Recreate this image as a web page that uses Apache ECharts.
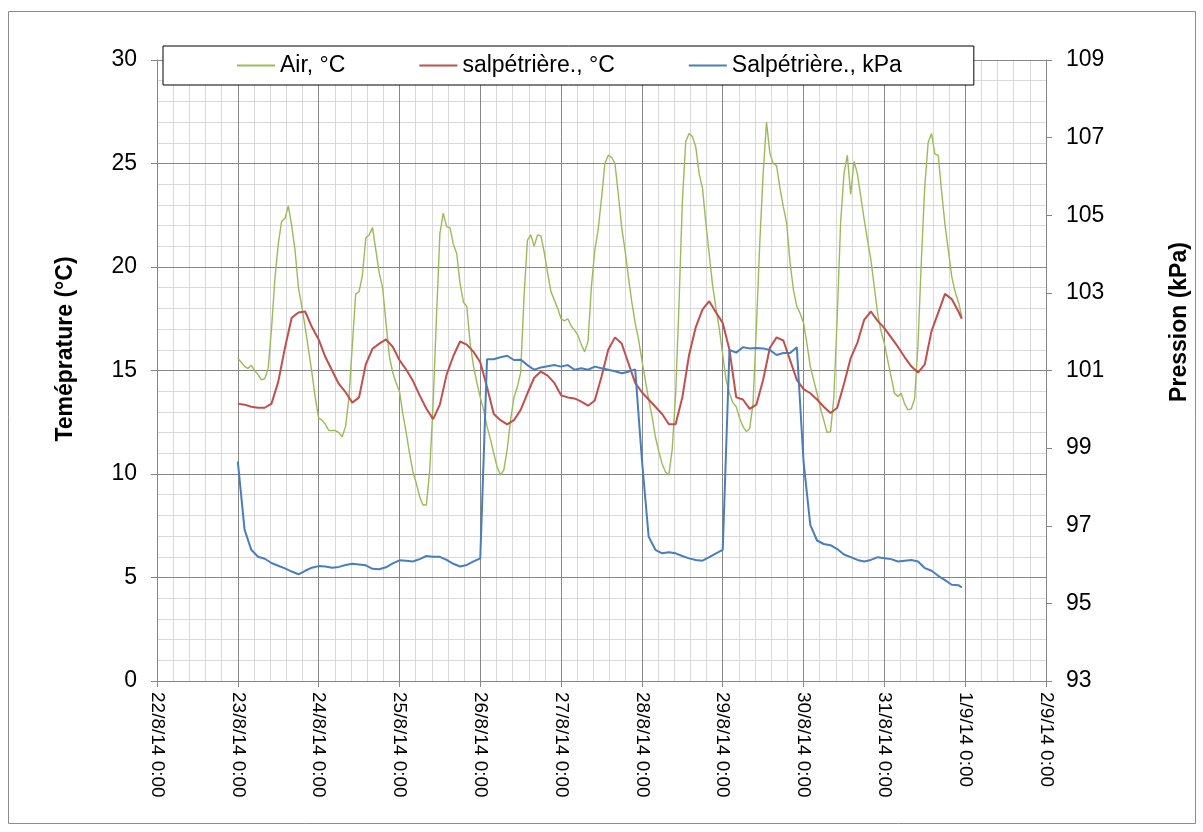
<!DOCTYPE html>
<html>
<head>
<meta charset="utf-8">
<script src="https://cdn.jsdelivr.net/npm/echarts@6/dist/echarts.min.js"></script>
<style>
  html, body { margin: 0; padding: 0; background: #fff; }
  #chart { width: 1203px; height: 832px; }
</style>
</head>
<body>
<div id="chart"></div>
<script>
// Date tick labels, one per day (x values are hours since 22/8/14 0:00)
const tickLabels = ['22/8/14 0:00', '23/8/14 0:00', '24/8/14 0:00', '25/8/14 0:00', '26/8/14 0:00',
  '27/8/14 0:00', '28/8/14 0:00', '29/8/14 0:00', '30/8/14 0:00', '31/8/14 0:00', '1/9/14 0:00', '2/9/14 0:00'];

const seriesNames = ['Air, °C', 'salpétrière., °C', 'Salpétrière., kPa'];

// Air temperature, hourly from 23/8 0:00 to 31/8 23:00 (°C)
const airTemp = [
  15.6, 15.4, 15.2, 15.1, 15.25, 15.0, 14.8, 14.55, 14.6, 15.1, 17.0, 19.4, 21.1, 22.2, 22.35, 22.95, 22.0, 20.8, 19.0, 18.1, 17.1, 16.0, 14.9, 13.7,
  12.7, 12.6, 12.4, 12.1, 12.1, 12.1, 12.0, 11.8, 12.3, 13.7, 16.2, 18.7, 18.8, 19.6, 21.4, 21.55, 21.9, 20.8, 19.7, 19.0, 17.3, 15.7, 14.9, 14.4,
  14.0, 12.9, 12.0, 11.0, 10.1, 9.55, 8.9, 8.5, 8.5, 10.2, 13.4, 17.6, 21.6, 22.6, 21.95, 21.9, 21.1, 20.65, 19.2, 18.3, 18.1, 16.3, 15.2, 14.4,
  13.7, 13.1, 12.3, 11.7, 11.0, 10.35, 9.95, 10.2, 11.2, 12.6, 13.7, 14.2, 14.9, 18.6, 21.3, 21.55, 21.0, 21.55, 21.5, 20.7, 19.7, 18.8, 18.4, 18.0,
  17.5, 17.4, 17.5, 17.15, 16.95, 16.7, 16.25, 15.9, 16.4, 19.05, 20.8, 21.8, 23.3, 25.0, 25.4, 25.3, 25.0, 23.5, 21.9, 20.8, 19.5, 18.3, 17.3, 16.5,
  15.5, 14.55, 13.6, 12.8, 11.8, 11.1, 10.5, 10.1, 9.95, 11.2, 13.8, 18.1, 23.1, 26.05, 26.45, 26.3, 25.8, 24.5, 23.8, 22.1, 20.6, 19.1, 18.0, 17.0,
  15.75, 14.55, 13.9, 13.45, 13.25, 12.7, 12.3, 12.05, 12.2, 13.4, 17.1, 21.15, 24.5, 27.0, 25.5, 25.0, 24.9, 23.8, 22.9, 22.1, 20.2, 18.9, 18.1, 17.75,
  17.3, 16.3, 15.2, 14.55, 13.9, 13.2, 12.6, 12.0, 12.05, 13.7, 17.6, 22.1, 24.5, 25.4, 23.5, 25.1, 24.5, 23.4, 22.3, 21.3, 20.35, 19.05, 17.75, 16.9,
  16.3, 15.5, 14.7, 13.9, 13.75, 13.9, 13.4, 13.1, 13.15, 13.65, 16.3, 20.35, 23.9, 26.0, 26.45, 25.45, 25.4, 23.65, 22.05, 20.8, 19.55, 18.8, 18.3, 17.6
];

// Salpêtrière temperature, every 2 h from 23/8 0:00, last reading 31/8 23:00 (°C)
const caveTemp = [
  13.4, 13.35, 13.25, 13.2, 13.2, 13.4, 14.45, 16.1, 17.55, 17.8, 17.85, 17.1,
  16.5, 15.65, 15.0, 14.35, 13.95, 13.45, 13.7, 15.3, 16.05, 16.3, 16.5, 16.15,
  15.5, 15.05, 14.5, 13.8, 13.15, 12.65, 13.35, 14.8, 15.7, 16.4, 16.25, 15.9,
  15.4, 14.2, 12.9, 12.6, 12.4, 12.6, 13.1, 13.9, 14.65, 14.95, 14.75, 14.4,
  13.8, 13.7, 13.65, 13.5, 13.3, 13.55, 14.7, 16.0, 16.6, 16.3, 15.35, 14.4,
  13.95, 13.6, 13.25, 12.9, 12.4, 12.4, 13.7, 15.75, 17.1, 17.95, 18.35, 17.8,
  17.3, 16.0, 13.7, 13.6, 13.15, 13.35, 14.55, 16.1, 16.6, 16.45, 15.5, 14.55,
  14.1, 13.9, 13.6, 13.25, 12.95, 13.2, 14.35, 15.6, 16.35, 17.45, 17.85, 17.4,
  17.05, 16.6, 16.15, 15.65, 15.2, 14.9, 15.3, 16.9, 17.8, 18.7, 18.45, 17.85,
  17.5
];

// Salpêtrière pressure, same timestamps as caveTemp (kPa)
const cavePressure = [
  98.65, 96.9, 96.38, 96.2, 96.15, 96.04, 95.97, 95.9, 95.82, 95.75, 95.84, 95.92,
  95.96, 95.95, 95.92, 95.94, 95.99, 96.02, 96.0, 95.98, 95.89, 95.88, 95.93, 96.03,
  96.11, 96.1, 96.08, 96.14, 96.22, 96.2, 96.2, 96.12, 96.02, 95.95, 95.99, 96.08,
  96.16, 101.29, 101.29, 101.34, 101.38, 101.27, 101.28, 101.14, 101.02, 101.08, 101.11, 101.14,
  101.1, 101.14, 101.02, 101.06, 101.02, 101.1, 101.06, 101.02, 100.98, 100.93, 100.97, 101.03,
  98.7, 96.72, 96.38, 96.29, 96.32, 96.29, 96.22, 96.16, 96.12, 96.1, 96.19, 96.29,
  96.38, 101.53, 101.46, 101.6, 101.57, 101.58, 101.57, 101.53, 101.4, 101.45, 101.45, 101.6,
  98.65, 97.02, 96.62, 96.53, 96.5, 96.4, 96.26, 96.19, 96.12, 96.08, 96.12, 96.19,
  96.16, 96.14, 96.08, 96.1, 96.12, 96.08, 95.91, 95.84, 95.71, 95.6, 95.48, 95.47,
  95.41
];

// Timestamps in hours since 22/8/14 0:00
const airHours = airTemp.map((_, i) => 24 + i);
const caveHours = [];
for (let i = 0; i < 108; i++) caveHours.push(24 + 2 * i);
caveHours.push(24 + 215);

const FONT = '"Liberation Sans", Arial, sans-serif';
const MAJOR = '#878787';
const MINOR = '#d9d9d9';

const chart = echarts.init(document.getElementById('chart'), null, { renderer: 'canvas' });

const baseX = { type: 'value', min: 0, max: 264, interval: 24, gridIndex: 0 };

chart.setOption({
  animation: false,
  backgroundColor: '#fff',
  textStyle: { fontFamily: FONT },
  grid: { left: 157, right: 157, top: 60, bottom: 151, containLabel: false },
  legend: {
    left: 163, top: 46,
    padding: [8, 72, 8, 74],
    itemGap: 74,
    icon: 'rect',
    itemWidth: 38, itemHeight: 2,
    borderColor: '#000', borderWidth: 1,
    backgroundColor: '#fff',
    textStyle: { fontSize: 23, color: '#000', fontFamily: FONT },
    data: seriesNames
  },
  xAxis: [
    // minor vertical grid, ticks and date labels
    Object.assign({}, baseX, {
      z: 0,
      axisLine: { show: true, onZero: false, lineStyle: { color: MAJOR, width: 1 } },
      axisTick: { show: true, length: 6, lineStyle: { color: MAJOR } },
      axisLabel: {
        rotate: -90, margin: 11, fontSize: 19, color: '#000', fontFamily: FONT,
        formatter: v => tickLabels[Math.round(v / 24)]
      },
      splitLine: { show: false },
      minorTick: { show: false, splitNumber: 5 },
      minorSplitLine: { show: true, lineStyle: { color: MINOR, width: 1 } }
    }),
    // daily vertical grid on top of the minor one
    Object.assign({}, baseX, {
      z: 2,
      axisLine: { show: false, onZero: false }, axisTick: { show: false }, axisLabel: { show: false },
      splitLine: { show: true, lineStyle: { color: MAJOR, width: 1 } }
    })
  ],
  yAxis: [
    {
      type: 'value', min: 0, max: 30, interval: 5, position: 'left', z: 1,
      axisLine: { show: true, onZero: false, lineStyle: { color: MAJOR, width: 1 } },
      axisTick: { show: true, length: 6, lineStyle: { color: MAJOR } },
      axisLabel: { margin: 20, fontSize: 23, color: '#000', fontFamily: FONT },
      splitLine: { show: true, lineStyle: { color: MAJOR, width: 1 } },
      minorTick: { show: false, splitNumber: 5 },
      minorSplitLine: { show: true, lineStyle: { color: MINOR, width: 1 } }
    },
    {
      type: 'value', min: 93, max: 109, interval: 2, position: 'right', z: 2,
      axisLine: { show: true, onZero: false, lineStyle: { color: MAJOR, width: 1 } },
      axisTick: { show: true, length: 6, lineStyle: { color: MAJOR } },
      axisLabel: { margin: 20, fontSize: 23, color: '#000', fontFamily: FONT },
      splitLine: { show: false }
    }
  ],
  graphic: [
    {
      type: 'rect', z: -10, silent: true,
      shape: { x: 8.5, y: 11.5, width: 1187, height: 812 },
      style: { fill: 'none', stroke: '#8c8c8c', lineWidth: 1 }
    },
    {
      type: 'text', x: 66, y: 349, rotation: Math.PI / 2, silent: true,
      style: { text: 'Teméprature (°C)', font: 'bold 23px ' + FONT, fill: '#000',
               textAlign: 'center', textVerticalAlign: 'middle' }
    },
    {
      type: 'text', x: 1180, y: 322, rotation: Math.PI / 2, silent: true,
      style: { text: 'Pression (kPa)', font: 'bold 23px ' + FONT, fill: '#000',
               textAlign: 'center', textVerticalAlign: 'middle' }
    }
  ],
  series: [
    {
      name: seriesNames[0], type: 'line', xAxisIndex: 0, yAxisIndex: 0, z: 3,
      showSymbol: false, symbol: 'none',
      lineStyle: { color: '#9bbb59', width: 1.4 }, itemStyle: { color: '#9bbb59' },
      data: airTemp.map((v, i) => [airHours[i], v])
    },
    {
      name: seriesNames[1], type: 'line', xAxisIndex: 0, yAxisIndex: 0, z: 4,
      showSymbol: false, symbol: 'none',
      lineStyle: { color: '#c0504d', width: 2 }, itemStyle: { color: '#c0504d' },
      data: caveTemp.map((v, i) => [caveHours[i], v])
    },
    {
      name: seriesNames[2], type: 'line', xAxisIndex: 0, yAxisIndex: 1, z: 5,
      showSymbol: false, symbol: 'none',
      lineStyle: { color: '#4a7ebb', width: 2 }, itemStyle: { color: '#4a7ebb' },
      data: cavePressure.map((v, i) => [caveHours[i], v])
    }
  ]
});
</script>
</body>
</html>
